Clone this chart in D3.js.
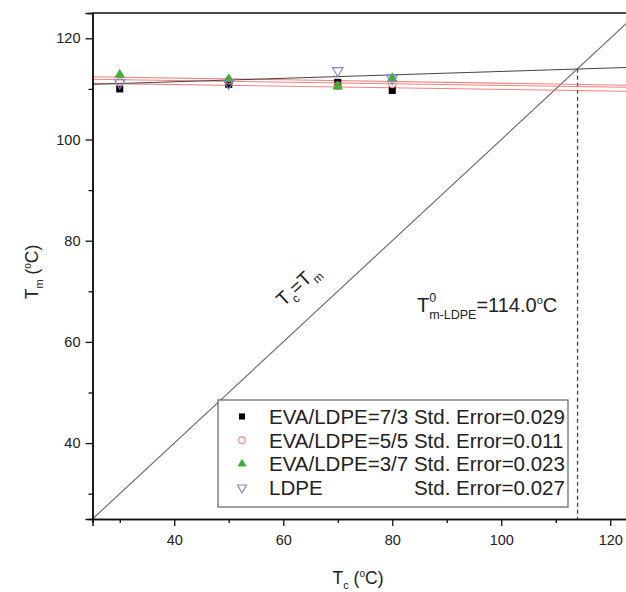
<!DOCTYPE html>
<html><head><meta charset="utf-8">
<script src="https://cdn.jsdelivr.net/npm/d3@7"></script>
<style>
body{margin:0;background:#fff}
svg{display:block}
text{font-family:"Liberation Sans",Arial,Helvetica,sans-serif;fill:#222}
</style>
</head><body>
<svg id="c" width="626" height="592"></svg>
<script>
// ---- data ----
const tc = [30, 50, 70, 80];
const eva73 = [110.0, 110.9, 111.3, 109.7];
const eva55 = [111.4, 111.7, 110.6, 111.0];
const eva37 = [112.8, 111.9, 110.5, 112.1];
const ldpe  = [111.2, 111.1, 113.6, 112.1];
const fitX = [25, 125];
const fitRed1 = [112.4, 110.7];
const fitRed2 = [111.9, 110.3];
const fitRed3 = [111.1, 109.5];
const fitLdpe = [110.9, 114.3];
const diagX = [25, 125];
const tm0 = 114.0;
const xDomain = [25, 125];
const yDomain = [25, 125];
const xMajor = [40, 60, 80, 100, 120];
const xMinor = [30, 50, 70, 90, 110];
const yMajor = [40, 60, 80, 100, 120];
const yMinor = [30, 50, 70, 90, 110];
const legendLabels = ["EVA/LDPE=7/3 Std. Error=0.029", "EVA/LDPE=5/5 Std. Error=0.011", "EVA/LDPE=3/7 Std. Error=0.023", "LDPE"];
const ldpeErr = "Std. Error=0.027";

// ---- layout ----
const svg = d3.select("#c");
const x = d3.scaleLinear().domain(xDomain).range([92.5, 637.5]);
const y = d3.scaleLinear().domain(yDomain).range([519, 13]);

const styles = [
  {vals: eva73, type: d3.symbolSquare, size: 50, fill: "#000", stroke: "none", rot: 0},
  {vals: eva55, type: d3.symbolCircle, size: 45, fill: "none", stroke: "#f08a78", rot: 0},
  {vals: eva37, type: d3.symbolTriangle, size: 48, fill: "#3fae3a", stroke: "none", rot: 0},
  {vals: ldpe, type: d3.symbolTriangle, size: 48, fill: "none", stroke: "#7a86d6", rot: 180}
];

// diagonal Tc = Tm
const line = d3.line().x(d => x(d[0])).y(d => y(d[1]));
svg.append("path").attr("d", line(diagX.map(v => [v, v])))
  .attr("stroke", "#666").attr("stroke-width", 1.1).attr("fill", "none");

// dashed vertical at Tm0
svg.append("path").attr("d", line([[tm0, tm0], [tm0, yDomain[0]]]))
  .attr("stroke", "#444").attr("stroke-width", 1.3).attr("stroke-dasharray", "4,3").attr("fill", "none");

// fit lines
[fitRed1, fitRed2, fitRed3].forEach(f => {
  svg.append("path").attr("d", line(fitX.map((v, i) => [v, f[i]])))
    .attr("stroke", "#f26b6b").attr("stroke-opacity", 0.85).attr("stroke-width", 1.1).attr("fill", "none");
});
svg.append("path").attr("d", line(fitX.map((v, i) => [v, fitLdpe[i]])))
  .attr("stroke", "#444").attr("stroke-width", 1).attr("fill", "none");

// markers
styles.forEach(s => {
  svg.append("g").selectAll("path").data(s.vals).join("path")
    .attr("d", d3.symbol().type(s.type).size(s.size))
    .attr("transform", (d, i) => `translate(${x(tc[i])},${y(d)}) rotate(${s.rot})`)
    .attr("fill", s.fill).attr("stroke", s.stroke).attr("stroke-width", 1.1);
});

// axes
const fontSize = 14.5;
const xa = svg.append("g").attr("transform", `translate(0,${y(yDomain[0])})`)
  .call(d3.axisBottom(x).tickValues(xMajor).tickSize(7).tickPadding(9).tickFormat(d3.format("d")));
const xm = svg.append("g").attr("transform", `translate(0,${y(yDomain[0])})`)
  .call(d3.axisBottom(x).tickValues(xMinor).tickSize(4).tickFormat(""));
const ya = svg.append("g").attr("transform", `translate(${x(xDomain[0])},0)`)
  .call(d3.axisLeft(y).tickValues(yMajor).tickSize(7).tickPadding(5).tickFormat(d3.format("d")));
const ym = svg.append("g").attr("transform", `translate(${x(xDomain[0])},0)`)
  .call(d3.axisLeft(y).tickValues(yMinor).tickSize(4).tickFormat(""));
[xa, xm, ya, ym].forEach(g => {
  g.select(".domain").attr("stroke", "#111").attr("stroke-width", 1.5);
  g.selectAll(".tick line").attr("stroke", "#111").attr("stroke-width", 1.3);
  g.selectAll(".tick text").attr("font-size", fontSize).attr("font-family", "Liberation Sans, Arial, sans-serif").attr("fill", "#333");
});
// top and right frame
svg.append("path").attr("d", line([[xDomain[0], yDomain[1]], [xDomain[1], yDomain[1]], [xDomain[1], yDomain[0]]]))
  .attr("stroke", "#111").attr("stroke-width", 1.5).attr("fill", "none");

// axis titles
const yt = svg.append("text").attr("transform", "translate(38,272) rotate(-90)")
  .attr("text-anchor", "middle").attr("font-size", 17.5);
yt.append("tspan").text("T");
yt.append("tspan").attr("font-size", 11).attr("dy", 5).text("m");
yt.append("tspan").attr("dy", -5).text(" (");
yt.append("tspan").attr("font-size", 10).attr("dy", -7).text("o");
yt.append("tspan").attr("dy", 7).text("C)");

const xt = svg.append("text").attr("x", 358).attr("y", 584)
  .attr("text-anchor", "middle").attr("font-size", 17.5);
xt.append("tspan").text("T");
xt.append("tspan").attr("font-size", 11).attr("dy", 5).text("c");
xt.append("tspan").attr("dy", -5).text(" (");
xt.append("tspan").attr("font-size", 10).attr("dy", -7).text("o");
xt.append("tspan").attr("dy", 7).text("C)");

// annotation Tm0
const an = svg.append("text").attr("x", 417).attr("y", 312).attr("font-size", 20);
an.append("tspan").text("T");
an.append("tspan").attr("font-size", 12.5).attr("dy", -10).text("0");
an.append("tspan").attr("font-size", 12.5).attr("dx", -7).attr("dy", 17).text("m-LDPE");
an.append("tspan").attr("dy", -7).text("=114.0");
an.append("tspan").attr("font-size", 11).attr("dy", -8).text("o");
an.append("tspan").attr("dy", 8).text("C");

// diagonal label
const ang = Math.atan2(y(30) - y(40), x(40) - x(30)) * 180 / Math.PI;
const dl = svg.append("text").attr("transform", `translate(302,290) rotate(${-ang})`)
  .attr("text-anchor", "middle").attr("font-size", 19);
dl.append("tspan").text("T");
dl.append("tspan").attr("font-size", 12).attr("dy", 6).text("c");
dl.append("tspan").attr("dy", -6).text("=T");
dl.append("tspan").attr("font-size", 12).attr("dy", 6).text("m");

// legend
const lg = svg.append("g");
lg.append("rect").attr("x", 218).attr("y", 400).attr("width", 350).attr("height", 107)
  .attr("fill", "#fff").attr("stroke", "#555").attr("stroke-width", 1.1);
const rowY = i => 416.5 + i * 23.7;
styles.forEach((s, i) => {
  lg.append("path").attr("d", d3.symbol().type(s.type).size(s.size * 0.75))
    .attr("transform", `translate(242,${rowY(i)}) rotate(${s.rot})`)
    .attr("fill", s.fill).attr("stroke", s.stroke).attr("stroke-width", 1.1);
});
let rightEdge = 0;
legendLabels.forEach((t, i) => {
  const tx = lg.append("text").attr("x", 269).attr("y", rowY(i)).attr("dy", "0.36em")
    .attr("font-size", 20.5).text(t);
  if (i === 0) rightEdge = 269 + tx.node().getComputedTextLength();
});
lg.append("text").attr("x", rightEdge).attr("y", rowY(3)).attr("dy", "0.36em")
  .attr("text-anchor", "end").attr("font-size", 20.5).text(ldpeErr);
</script>
</body></html>
